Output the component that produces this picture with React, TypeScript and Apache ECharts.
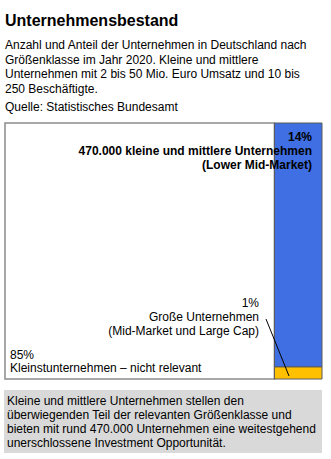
import React, { useEffect, useRef } from "react";
import * as echarts from "echarts";

// Segment names and shares (% of all companies)
const segmentNames = [
  "Kleinstunternehmen – nicht relevant",
  "kleine und mittlere Unternehmen",
  "Große Unternehmen",
];
const segmentShares = [85, 14, 1];
// Column widths of the mekko (x axis, %)
const columnWidths = [85, 15];
// Share of the right column held by the large companies (%)
const largeShareInColumn = [4.7];
const kmuCount = "470.000";

const titleText = "Unternehmensbestand";
const subtitleLines = [
  "Anzahl und Anteil der Unternehmen in Deutschland nach",
  "Größenklasse im Jahr 2020. Kleine und mittlere",
  "Unternehmen mit 2 bis 50 Mio. Euro Umsatz und 10 bis",
  "250 Beschäftigte.",
];
const sourceText = "Quelle: Statistisches Bundesamt";
const footerLines = [
  "Kleine und mittlere Unternehmen stellen den",
  "überwiegenden Teil der relevanten Größenklasse und",
  "bieten mit rund 470.000 Unternehmen eine weitestgehend",
  "unerschlossene Investment Opportunität.",
];

const FONT = "'Liberation Sans', Arial, sans-serif";

export default function App() {
  const ref = useRef<HTMLDivElement>(null);
  useEffect(() => {
    if (!ref.current) return;
    const chart = echarts.init(ref.current, null, { renderer: "svg" });
    const x1 = columnWidths[0];
    const x2 = columnWidths[0] + columnWidths[1];
    const yl = largeShareInColumn[0];
    const rects = [
      { value: [0, x1, 0, 100], fill: "#ffffff", stroke: "#8c8c8c", lw: 1.5 },
      { value: [x1, x2, yl, 100], fill: "#3f6fe3", stroke: "#5a5a5a", lw: 1 },
      { value: [x1, x2, 0, yl], fill: "#ffc000", stroke: "#5a5a5a", lw: 1 },
    ];
    const txt = (
      text: string,
      x: number,
      y: number,
      opts: any = {}
    ) => ({
      type: "text",
      x,
      y,
      z: 100,
      style: {
        text,
        fontFamily: FONT,
        fontSize: 12,
        fill: "#000",
        textVerticalAlign: "middle",
        ...opts,
      },
    });
    const option: any = {
      animation: false,
      grid: { left: 5, right: 9, top: 123, bottom: 80 },
      xAxis: { type: "value", min: 0, max: 100, show: false },
      yAxis: { type: "value", min: 0, max: 100, show: false },
      series: [
        {
          type: "custom",
          data: rects.map((r) => r.value),
          renderItem: (params: any, api: any) => {
            const a = api.coord([api.value(0), api.value(3)]);
            const b = api.coord([api.value(1), api.value(2)]);
            const r = rects[params.dataIndex];
            return {
              type: "rect",
              shape: { x: a[0], y: a[1], width: b[0] - a[0], height: b[1] - a[1] },
              style: { fill: r.fill, stroke: r.stroke, lineWidth: r.lw },
            };
          },
        },
      ],
      graphic: [
        txt(titleText, 5, 20, { fontSize: 16, fontWeight: "bold" }),
        ...subtitleLines.map((l, i) => txt(l, 5, 45 + i * 14.7)),
        txt(sourceText, 5, 107),
        txt(`${segmentShares[1]}%`, 312, 137, { fontWeight: "bold", textAlign: "right" }),
        txt(`${kmuCount} ${segmentNames[1]}`, 312, 151, { fontWeight: "bold", textAlign: "right" }),
        txt("(Lower Mid-Market)", 312, 165, { fontWeight: "bold", textAlign: "right" }),
        txt(`${segmentShares[2]}%`, 259, 303, { textAlign: "right" }),
        txt(segmentNames[2], 259, 317, { textAlign: "right" }),
        txt("(Mid-Market und Large Cap)", 259, 331, { textAlign: "right" }),
        txt(`${segmentShares[0]}%`, 10, 355),
        txt(segmentNames[0], 10, 368),
        {
          type: "line",
          z: 100,
          shape: { x1: 266, y1: 319, x2: 289, y2: 376 },
          style: { stroke: "#000", lineWidth: 1 },
        },
        {
          type: "rect",
          z: 50,
          shape: { x: 4, y: 390, width: 318, height: 63 },
          style: { fill: "#d9d9d9" },
        },
        ...footerLines.map((l, i) => txt(l, 7, 401 + i * 14)),
      ],
    };
    chart.setOption(option);
    return () => chart.dispose();
  }, []);
  return (
    <div
      ref={ref}
      style={{ position: "absolute", left: 0, top: 0, width: 331, height: 459, background: "#fff" }}
    />
  );
}
